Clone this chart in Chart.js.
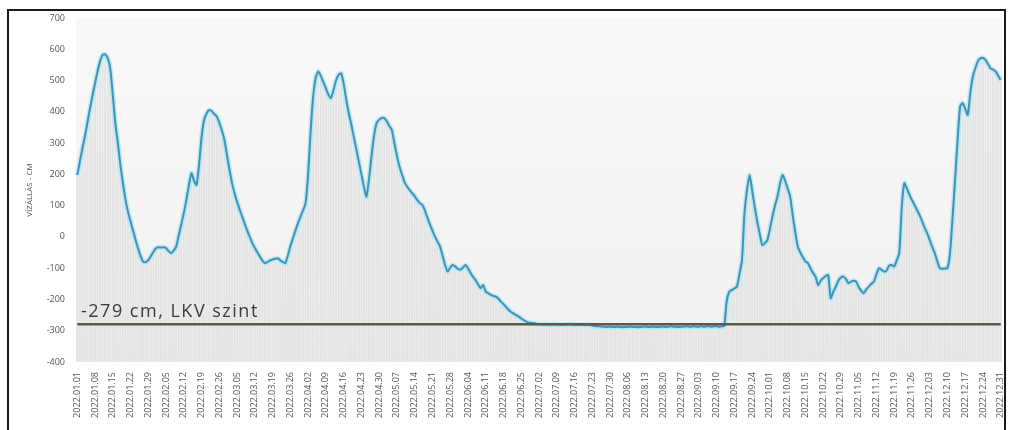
<!DOCTYPE html>
<html><head><meta charset="utf-8">
<script src="https://cdn.jsdelivr.net/npm/chart.js@4.4.1/dist/chart.umd.min.js"></script>
<style>
html,body{margin:0;padding:0;background:#fff;}
#wrap{position:relative;width:1010px;height:430px;overflow:hidden;}
#c{position:absolute;left:0;top:0;}
#frame{position:absolute;left:7px;top:9px;width:995px;height:430px;border:2px solid #1a1a1a;border-bottom:none;pointer-events:none;}
</style></head><body>
<div id="wrap"><canvas id="c" width="1010" height="430"></canvas><div id="frame"></div></div>
<script>
// Daily categories for 2022
const categories = [];
for (let d = new Date(2022, 0, 1); d.getFullYear() === 2022; d.setDate(d.getDate() + 1)) {
  categories.push(d.getFullYear() + '.' + String(d.getMonth() + 1).padStart(2, '0') + '.' + String(d.getDate()).padStart(2, '0'));
}
// Weekly tick labels shown on the x axis
const tickLabels = [
  '2022.01.01','2022.01.08','2022.01.15','2022.01.22','2022.01.29','2022.02.05','2022.02.12','2022.02.19','2022.02.26',
  '2022.03.05','2022.03.12','2022.03.19','2022.03.26','2022.04.02','2022.04.09','2022.04.16','2022.04.23','2022.04.30',
  '2022.05.07','2022.05.14','2022.05.21','2022.05.28','2022.06.04','2022.06.11','2022.06.18','2022.06.25','2022.07.02',
  '2022.07.09','2022.07.16','2022.07.23','2022.07.30','2022.08.06','2022.08.13','2022.08.20','2022.08.27','2022.09.03',
  '2022.09.10','2022.09.17','2022.09.24','2022.10.01','2022.10.08','2022.10.15','2022.10.22','2022.10.29','2022.11.05',
  '2022.11.12','2022.11.19','2022.11.26','2022.12.03','2022.12.10','2022.12.17','2022.12.24','2022.12.31'
];
// Daily water level (cm)
const levels = [
  198,240,282,321,365,410,452,491,530,562,
  582,584,572,539,455,364,300,230,172,120,
  80,50,20,-10,-38,-62,-79,-80,-74,-62,
  -48,-36,-33,-34,-33,-36,-45,-52,-44,-31,
  5,40,76,118,165,204,180,166,230,320,
  374,395,406,402,393,385,365,340,310,262,
  215,172,140,112,88,65,42,20,0,-20,
  -35,-50,-63,-76,-84,-80,-75,-72,-70,-68,
  -75,-80,-84,-60,-30,-5,20,44,65,85,
  108,200,340,450,510,529,515,495,475,455,
  444,470,500,518,523,490,440,396,360,320,
  280,240,200,160,129,185,260,325,364,375,
  380,380,370,355,342,300,260,225,200,175,
  161,150,140,130,118,108,102,85,62,40,
  20,1,-15,-31,-60,-90,-111,-98,-90,-95,
  -102,-105,-98,-90,-100,-115,-128,-138,-152,-164,
  -154,-175,-180,-185,-189,-191,-198,-207,-215,-224,
  -233,-240,-245,-250,-255,-261,-266,-271,-274,-275,
  -276,-278,-279,-279,-280,-279,-280,-280,-279,-280,
  -280,-281,-280,-280,-279,-280,-281,-281,-280,-281,
  -281,-282,-282,-283,-285,-286,-286,-287,-287,-288,
  -287,-288,-288,-287,-288,-289,-288,-288,-287,-288,
  -288,-289,-288,-287,-287,-288,-288,-287,-288,-288,
  -287,-287,-288,-287,-286,-287,-287,-288,-287,-287,
  -286,-287,-287,-286,-287,-287,-286,-287,-286,-286,
  -287,-286,-286,-287,-286,-285,-205,-175,-170,-165,
  -159,-120,-74,76,150,198,150,97,50,10,
  -26,-20,-10,25,65,100,129,170,198,180,
  155,129,70,15,-31,-50,-65,-78,-84,-100,
  -115,-127,-154,-140,-132,-125,-122,-196,-175,-159,
  -140,-130,-127,-135,-148,-143,-140,-143,-160,-172,
  -180,-168,-159,-150,-143,-120,-100,-105,-111,-108,
  -92,-90,-95,-75,-52,97,172,155,135,118,
  102,86,70,50,30,12,-10,-32,-52,-78,
  -100,-102,-101,-100,-52,60,182,310,417,428,
  410,390,460,513,540,562,571,572,566,552,
  539,535,529,515,502
];
const lkvLevel = -279;
const lkvLabel = '-279 cm, LKV szint';
const yTitle = 'VÍZÁLLÁS - CM';
const yMin = -400, yMax = 700, yStep = 100;

const decor = {
  id: 'decor',
  beforeDraw(chart) {
    const { ctx, chartArea: a } = chart;
    const g = ctx.createLinearGradient(0, a.top, 0, a.bottom);
    g.addColorStop(0, '#f9f9f9');
    g.addColorStop(1, '#f0f0f0');
    ctx.save();
    ctx.fillStyle = g;
    ctx.fillRect(a.left, a.top, a.right - a.left, a.bottom - a.top);
    ctx.restore();
  },
  afterDatasetsDraw(chart) {
    const { ctx, chartArea: a, scales: { y } } = chart;
    const py = y.getPixelForValue(lkvLevel);
    ctx.save();
    ctx.font = '18px "Open Sans"';
    ctx.fillStyle = '#3b3b3b';
    try { ctx.letterSpacing = '1.5px'; } catch (e) {}
    ctx.textBaseline = 'alphabetic';
    ctx.fillText(lkvLabel, a.left + 5, py - 7);
    ctx.restore();
  }
};

new Chart(document.getElementById('c'), {
  type: 'bar',
  data: {
    labels: categories,
    datasets: [
      { type: 'line', data: categories.map(() => lkvLevel), borderColor: '#5f5a42', borderWidth: 2.5, pointRadius: 0, fill: false, order: 0 },
      { type: 'line', data: levels, borderColor: '#3f93b6', borderWidth: 2, pointRadius: 0, tension: 0.2, fill: false, order: 1 },
      { type: 'line', data: levels, borderColor: 'rgba(165,228,245,0.7)', borderWidth: 5, pointRadius: 0, tension: 0.2, fill: false, order: 2 },
      { type: 'bar', data: levels, base: yMin, backgroundColor: '#e4e4e4', barPercentage: 1, categoryPercentage: 0.75, order: 3 }
    ]
  },
  options: {
    responsive: false,
    animation: false,
    events: [],
    layout: { padding: { left: 25, top: 18, right: 8, bottom: 0 } },
    plugins: { legend: { display: false }, tooltip: { enabled: false } },
    scales: {
      x: {
        grid: { display: false, drawTicks: false },
        border: { display: false },
        ticks: {
          autoSkip: false, minRotation: 90, maxRotation: 90, padding: 10,
          color: '#555', font: { family: 'Open Sans', size: 9 },
          callback: (v, i) => (i % 7 === 0 ? tickLabels[i / 7] : '')
        },
        afterFit(s) { s.height = 68; s.paddingLeft = 0; s.paddingRight = 0; }
      },
      y: {
        min: yMin, max: yMax,
        grid: { display: false, drawTicks: false },
        border: { display: false },
        ticks: { stepSize: yStep, padding: 11, color: '#555', font: { family: 'Open Sans', size: 9 } },
        title: { display: true, text: yTitle, color: '#555', font: { family: 'Open Sans', size: 8 }, padding: 0 },
        afterFit(s) { s.width = 51; s.paddingTop = 0; s.paddingBottom = 0; }
      }
    }
  },
  plugins: [decor]
});
</script>
</body></html>
